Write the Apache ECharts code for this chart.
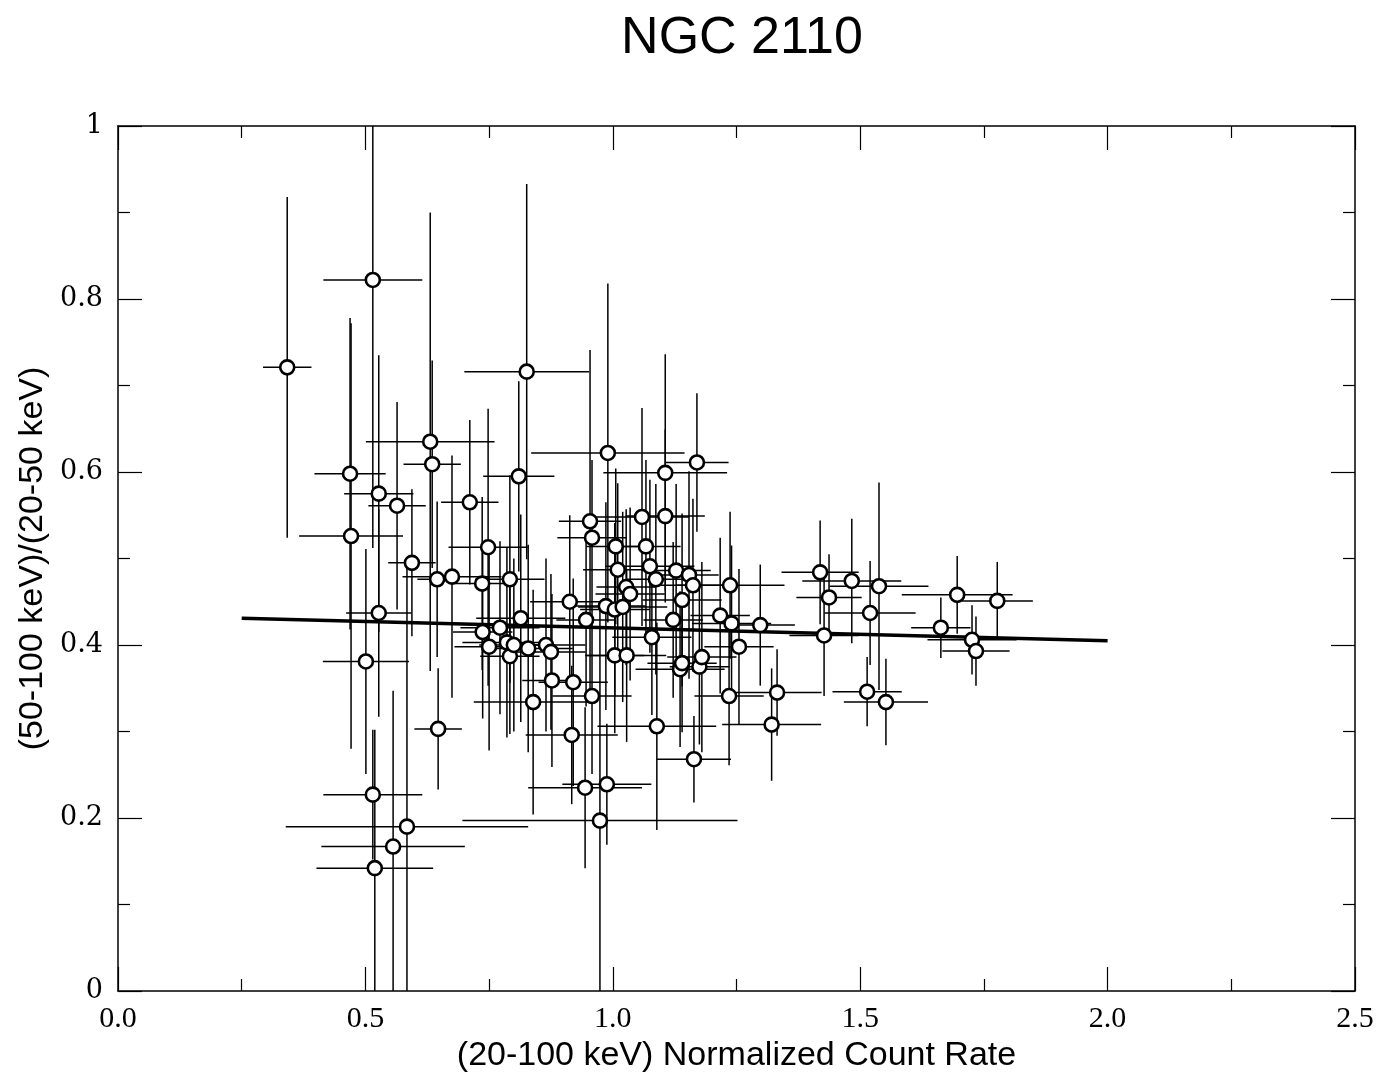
<!DOCTYPE html>
<html>
<head>
<meta charset="utf-8">
<title>NGC 2110</title>
<script src="https://cdn.jsdelivr.net/npm/echarts@6/dist/echarts.min.js"></script>
<style>
  html, body { margin: 0; padding: 0; background: #fff; }
  #chart { width: 1382px; height: 1075px; }
</style>
</head>
<body>
<div id="chart"></div>
<script>
// (20-100 keV) normalized count rate
var xVals = [0.342, 0.515, 0.469, 0.471, 0.527, 0.527, 0.515, 0.519, 0.556, 0.584,
  0.501, 0.564, 0.594, 0.631, 0.635, 0.647, 0.645, 0.675, 0.711, 0.736,
  0.748, 0.81, 0.826, 0.792, 0.814, 0.737, 0.75, 0.772, 0.786, 0.792,
  0.80, 0.829, 0.865, 0.875, 0.877, 0.839, 0.92, 0.913, 0.917, 0.958,
  0.944, 0.988, 0.974, 0.99, 0.954, 0.958, 0.946, 0.986, 1.004, 1.02,
  1.006, 1.01, 1.004, 1.028, 1.027, 1.035, 1.059, 1.067, 1.075, 1.079,
  1.087, 1.089, 1.106, 1.106, 1.122, 1.128, 1.14, 1.136, 1.14, 1.154,
  1.162, 1.164, 1.17, 1.175, 1.18, 1.217, 1.237, 1.24, 1.235, 1.255,
  1.298, 1.321, 1.332, 1.419, 1.427, 1.437, 1.483, 1.514, 1.52, 1.538,
  1.552, 1.663, 1.696, 1.726, 1.734, 1.777];
// (50-100 keV)/(20-50 keV) hardness ratio
var yVals = [0.721, 0.822, 0.598, 0.526, 0.575, 0.437, 0.227, 0.142, 0.167, 0.190,
  0.381, 0.561, 0.495, 0.635, 0.609, 0.303, 0.476, 0.479, 0.565, 0.471,
  0.513, 0.595, 0.716, 0.476, 0.431, 0.415, 0.398, 0.42, 0.403, 0.387,
  0.40, 0.396, 0.40, 0.392, 0.359, 0.334, 0.357, 0.45, 0.296, 0.341,
  0.235, 0.239, 0.197, 0.622, 0.543, 0.524, 0.429, 0.445, 0.441, 0.444,
  0.514, 0.487, 0.388, 0.388, 0.467, 0.459, 0.548, 0.514, 0.491, 0.409,
  0.476, 0.306, 0.599, 0.549, 0.429, 0.486, 0.452, 0.372, 0.379, 0.481,
  0.469, 0.268, 0.611, 0.375, 0.386, 0.434, 0.469, 0.425, 0.341, 0.398,
  0.423, 0.308, 0.345, 0.484, 0.411, 0.455, 0.474, 0.346, 0.437, 0.468,
  0.334, 0.42, 0.458, 0.406, 0.393, 0.451];
var xErr = [0.049, 0.10, 0.072, 0.105, 0.07, 0.066, 0.10, 0.118, 0.145, 0.245,
  0.087, 0.058, 0.048, 0.13, 0.058, 0.048, 0.04, 0.10, 0.058, 0.06,
  0.08, 0.072, 0.126, 0.07, 0.09, 0.06, 0.07, 0.08, 0.09, 0.06,
  0.07, 0.09, 0.08, 0.07, 0.06, 0.12, 0.07, 0.08, 0.093, 0.08,
  0.115, 0.09, 0.278, 0.155, 0.063, 0.07, 0.06, 0.08, 0.07, 0.09,
  0.06, 0.07, 0.06, 0.08, 0.06, 0.07, 0.095, 0.07, 0.09, 0.08,
  0.06, 0.12, 0.125, 0.08, 0.06, 0.07, 0.08, 0.09, 0.07, 0.06,
  0.07, 0.075, 0.064, 0.06, 0.07, 0.06, 0.11, 0.08, 0.07, 0.07,
  0.07, 0.10, 0.09, 0.078, 0.07, 0.066, 0.10, 0.07, 0.092, 0.10,
  0.085, 0.06, 0.112, 0.09, 0.068, 0.072];
var yErr = [0.197, 0.31, 0.18, 0.246, 0.16, 0.12, 0.075, 0.16, 0.18, 0.30,
  0.13, 0.12, 0.085, 0.265, 0.12, 0.07, 0.09, 0.14, 0.095, 0.10,
  0.16, 0.11, 0.217, 0.12, 0.12, 0.10, 0.12, 0.10, 0.11, 0.09,
  0.10, 0.12, 0.10, 0.09, 0.10, 0.13, 0.12, 0.10, 0.08, 0.09,
  0.093, 0.07, 0.25, 0.196, 0.198, 0.09, 0.10, 0.12, 0.10, 0.11,
  0.09, 0.10, 0.09, 0.10, 0.09, 0.10, 0.126, 0.10, 0.10, 0.09,
  0.11, 0.12, 0.137, 0.10, 0.09, 0.10, 0.10, 0.09, 0.08, 0.12,
  0.10, 0.05, 0.08, 0.09, 0.11, 0.09, 0.085, 0.09, 0.08, 0.09,
  0.07, 0.065, 0.05, 0.06, 0.07, 0.05, 0.072, 0.04, 0.06, 0.12,
  0.05, 0.035, 0.045, 0.04, 0.04, 0.045];
// linear fit
var fitX = [0.25, 2.0];
var fitY = [0.431, 0.405];

var xTicks = ['0.0', '0.5', '1.0', '1.5', '2.0', '2.5'];

var points = xVals.map(function(x, i) {
  return [x, yVals[i], xErr[i], yErr[i]];
});
var fitLine = fitX.map(function(x, i) { return [x, fitY[i]]; });

var chart = echarts.init(document.getElementById('chart'));

var sansFont = '"Liberation Sans", Arial, sans-serif';

function axisBase(pos, isX, showLabels) {
  var ax = {
    type: 'value',
    position: pos,
    min: 0,
    max: isX ? 2.5 : 1,
    interval: isX ? 0.5 : 0.2,
    splitLine: { show: false },
    axisLine: { show: true, onZero: false, lineStyle: { color: '#000', width: 1.5 } },
    axisTick: { show: true, inside: true, length: 24, lineStyle: { color: '#000', width: 1.2 } },
    minorTick: { show: true, splitNumber: 2, length: 12, lineStyle: { color: '#000', width: 1.2 } },
    axisLabel: { show: showLabels }
  };
  if (showLabels) {
    ax.axisLabel = {
      show: true,
      color: '#000',
      fontFamily: isX ? '"Liberation Serif", serif' : '"DejaVu Serif", serif',
      fontSize: isX ? 30 : 27,
      margin: isX ? 13 : 15,
      formatter: isX ? function(v) { return xTicks[Math.round(v / 0.5)]; }
        : function(v) { return (v === 0 || v === 1) ? String(v) : v.toFixed(1); }
    };
  }
  return ax;
}

var xMain = axisBase('bottom', true, true);
xMain.name = '(20-100 keV) Normalized Count Rate';
xMain.nameLocation = 'middle';
xMain.nameGap = 47;
xMain.nameTextStyle = { color: '#000', fontFamily: sansFont, fontSize: 34 };

var yMain = axisBase('left', false, true);
yMain.name = '(50-100 keV)/(20-50 keV)';
yMain.nameLocation = 'middle';
yMain.nameGap = 63;
yMain.nameTextStyle = { color: '#000', fontFamily: sansFont, fontSize: 34 };

chart.setOption({
  animation: false,
  backgroundColor: '#fff',
  title: {
    text: 'NGC 2110',
    left: 737,
    top: 8,
    textAlign: 'center',
    textStyle: { color: '#000', fontFamily: sansFont, fontSize: 52, fontWeight: 'normal' }
  },
  grid: { left: 118, top: 126, right: 27, bottom: 84, containLabel: false, outerBoundsMode: 'none' },
  xAxis: [xMain, axisBase('top', true, false)],
  yAxis: [yMain, axisBase('right', false, false)],
  series: [
    {
      type: 'custom',
      xAxisIndex: 0,
      yAxisIndex: 0,
      data: points,
      z: 2,
      renderItem: function(params, api) {
        var cs = params.coordSys;
        var x = api.value(0), y = api.value(1), ex = api.value(2), ey = api.value(3);
        var l = api.coord([x - ex, y]);
        var r = api.coord([x + ex, y]);
        var t = api.coord([x, y + ey]);
        var b = api.coord([x, y - ey]);
        var clampX = function(v) { return Math.max(cs.x, Math.min(cs.x + cs.width, v)); };
        var clampY = function(v) { return Math.max(cs.y, Math.min(cs.y + cs.height, v)); };
        var st = { stroke: '#000', lineWidth: 1.5 };
        return {
          type: 'group',
          children: [
            { type: 'line', shape: { x1: clampX(l[0]), y1: l[1], x2: clampX(r[0]), y2: r[1] }, style: st },
            { type: 'line', shape: { x1: t[0], y1: clampY(t[1]), x2: b[0], y2: clampY(b[1]) }, style: st }
          ]
        };
      }
    },
    {
      type: 'line',
      data: fitLine,
      symbol: 'none',
      z: 3,
      lineStyle: { color: '#000', width: 3.5 }
    },
    {
      type: 'scatter',
      data: points.map(function(p) { return [p[0], p[1]]; }),
      symbol: 'circle',
      symbolSize: 14,
      z: 4,
      itemStyle: { color: '#fff', borderColor: '#000', borderWidth: 2.6, opacity: 1 }
    }
  ]
});
</script>
</body>
</html>
